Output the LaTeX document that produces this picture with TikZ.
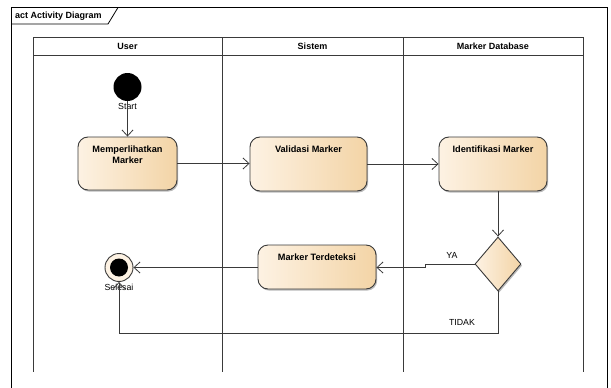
\documentclass[tikz,border=0pt]{standalone}
\usepackage{fontspec}
\setmainfont{Liberation Sans}
\usetikzlibrary{arrows.meta,shapes.geometric,shadows}
\definecolor{boxl}{HTML}{FDF2E3}
\definecolor{boxr}{HTML}{F3D4A6}
\definecolor{edge}{HTML}{3A3A3A}
\tikzset{
  actbox/.style={draw=edge, line width=0.9pt, rounded corners=10pt, left color=boxl, right color=boxr,
    drop shadow={shadow xshift=1.2pt, shadow yshift=-1.6pt, fill=black!45, opacity=0.6}},
  boxtext/.style={font=\bfseries\fontsize{9.2}{11.5}\selectfont, align=center, anchor=north, inner sep=0pt},
  lanetext/.style={font=\bfseries\fontsize{9}{10}\selectfont, inner sep=0pt},
  small/.style={font=\fontsize{8.8}{10}\selectfont, inner sep=0pt},
  lane/.style={draw=edge, line width=0.9pt},
  flow/.style={draw=edge, line width=0.8pt, -{Straight Barb[length=6pt,width=11pt,line width=0.8pt]}},
}
\begin{document}
\begin{tikzpicture}[x=1pt,y=-1pt]
\useasboundingbox (0,0) rectangle (611,388);
% frame
\draw[black, line width=0.8pt] (11.5,392) -- (11.5,7.5) -- (607.5,7.5) -- (607.5,392);
\draw[black, line width=0.8pt] (11.5,24) -- (108,24) -- (118,7.5);
\node[lanetext, anchor=west] (tab) at (15,16) {act Activity Diagram};
% swimlanes
\draw[lane] (33,37) rectangle (583,55);
\draw[lane] (33,55) -- (33,372);
\draw[lane] (222,37) -- (222,372);
\draw[lane] (403,37) -- (403,372);
\draw[lane] (583,55) -- (583,372);
\node[lanetext] (h1) at (127.5,46) {User};
\node[lanetext] (h2) at (312.5,46) {Sistem};
\node[lanetext] (h3) at (493,46) {Marker Database};
% nodes
\node[circle, fill=black, minimum size=28pt, inner sep=0pt] (start) at (127.5,87) {};
\node[small] (startlbl) at (127.5,106.5) {Start};
\node[actbox, minimum width=99pt, minimum height=53pt] (b1) at (127.5,163.5) {};
\node[boxtext] (t1) at ([yshift=-9pt]b1.north) {Memperlihatkan\\Marker};
\node[actbox, minimum width=117pt, minimum height=54pt] (b2) at (308.5,164) {};
\node[boxtext] (t2) at ([yshift=-9pt]b2.north) {Validasi Marker};
\node[actbox, minimum width=108pt, minimum height=54pt] (b3) at (493,164) {};
\node[boxtext] (t3) at ([yshift=-9pt]b3.north) {Identifikasi Marker};
\node[diamond, draw=edge, line width=0.9pt, left color=boxl, right color=boxr, minimum width=46pt, minimum height=54pt, inner sep=0pt,
  drop shadow={shadow xshift=1.2pt, shadow yshift=-1.6pt, fill=black!45, opacity=0.6}] (dec) at (498,264) {};
\node[actbox, minimum width=118pt, minimum height=44pt] (b4) at (317,267) {};
\node[boxtext] (t4) at ([yshift=-9pt]b4.north) {Marker Terdeteksi};
\node[circle, draw=edge, line width=0.9pt, fill=boxl, minimum size=28pt, inner sep=0pt] (end) at (119,267.5) {};
\node[circle, fill=black, minimum size=18pt, inner sep=0pt] (endin) at (end) {};
\node[small] (endlbl) at (119,287) {Selesai};
\coordinate (ya1) at (425,264);
\coordinate (ya2) at (425,267.5);
% connectors
\draw[flow] (start.south) -- (b1.north);
\draw[flow] (b1.east) -- (b1.east -| b2.west);
\draw[flow] (b2.east) -- (b2.east -| b3.west);
\draw[flow] (b3.south -| dec.north) -- (dec.north);
\draw[flow] (dec.west) -- (ya1) -- (ya2) -- (ya2 -| b4.east);
\draw[flow] (b4.west |- end.east) -- (end.east);
\draw[flow] (dec.south) -- ++(0,42) -| (end.south);
\node[small] (ya) at (452,255.5) {YA};
\node[small] (tidak) at (462,322) {TIDAK};
\end{tikzpicture}
\end{document}
